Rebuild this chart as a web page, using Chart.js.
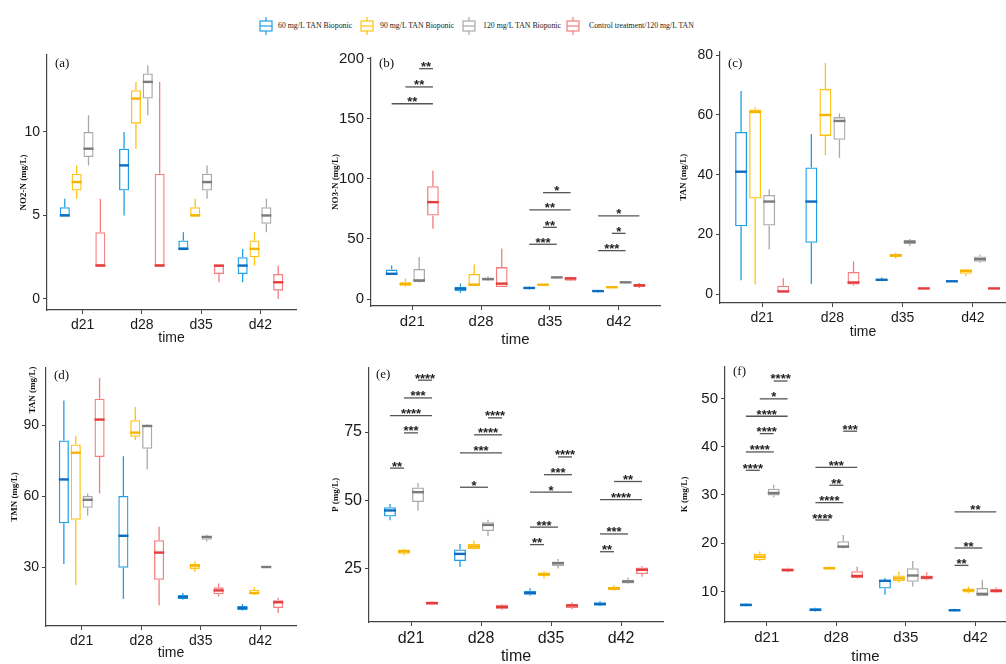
<!DOCTYPE html>
<html>
<head>
<meta charset="utf-8">
<title>Water quality boxplots</title>
<script src="https://cdn.jsdelivr.net/npm/chart.js"></script>
<style>
  html, body { margin: 0; padding: 0; background: #fff; overflow: hidden; }
  body { position: relative; width: 1006px; height: 664px; }
  canvas { position: absolute; }
  #legend { position: absolute; left: 0; top: 0; width: 1006px; height: 40px;
    font-family: "Liberation Serif", serif; font-size: 7.8px; color: #222; }
  .item { position: absolute; top: 17px; height: 18px; }
  .item svg { position: absolute; left: 0; top: 0; }
  .item span { position: absolute; top: 0; line-height: 18px; white-space: nowrap; }
</style>
</head>
<body>
<div id="legend"></div>
<canvas id="pa"></canvas>
<canvas id="pb"></canvas>
<canvas id="pc"></canvas>
<canvas id="pd"></canvas>
<canvas id="pe"></canvas>
<canvas id="pf"></canvas>
<script>
// Days on the x axis
const categories = ["d21", "d28", "d35", "d42"];
const seriesNames = [
  "60 mg/L TAN Bioponic",
  "90 mg/L TAN Bioponic",
  "120 mg/L TAN Bioponic",
  "Control treatment/120 mg/L TAN",
];

// Every box: [min, q1, median, q3, max], one per day
// (a) NO2-N
const no2_60 = [[5, 5, 5, 5.5, 6], [5, 6.5, 8, 9, 10], [3, 3, 3, 3.5, 4], [1, 1.5, 2, 2.5, 3]];
const no2_90 = [[6, 6.5, 7, 7.5, 8], [9, 10.5, 12, 12.5, 13], [5, 5, 5, 5.5, 6], [2, 2.5, 3, 3.5, 4]];
const no2_120 = [[8, 8.5, 9, 10, 11], [11, 12, 13, 13.5, 14], [6, 6.5, 7, 7.5, 8], [4, 4.5, 5, 5.5, 6]];
const no2_ctrl = [[2, 2, 2, 4, 6], [2, 2, 2, 7.5, 13], [1, 1.5, 2, 2, 2], [0, 0.5, 1, 1.5, 2]];

// (b) NO3-N
const no3_60 = [[20, 20.2, 21, 24.5, 28], [5, 6.4, 8.6, 10.3, 13], [8, 8.3, 9.2, 10, 10.5], [5.5, 5.8, 6.6, 7.2, 7.5]];
const no3_90 = [[10.3, 11, 12.5, 14, 17], [11, 11.1, 12, 20.8, 28.8], [11.5, 11.7, 11.9, 12.1, 12.3], [9, 9.2, 9.8, 10.5, 10.8]];
const no3_120 = [[13.5, 14, 15.5, 25, 35], [14.7, 15.5, 16.6, 17.8, 18.9], [17, 17.5, 18, 18.6, 19], [13, 13.3, 13.9, 14.4, 14.8]];
const no3_ctrl = [[58.5, 69.5, 80.7, 94, 107], [10, 10, 12.8, 26.6, 42], [14.7, 15.3, 17.2, 18, 18.6], [9.2, 10, 11.4, 12.5, 13.3]];

// (c) TAN
const tan_60 = [[4.6, 22.7, 41, 54.3, 68], [3.4, 17.2, 31, 42.4, 53.6], [4.3, 4.4, 4.8, 5.1, 5.6], [4.1, 4.2, 4.3, 4.4, 4.5]];
const tan_90 = [[3.2, 32, 61, 61.8, 62.6], [46.5, 53, 60, 68.7, 77.4], [11.9, 12.4, 13, 13.5, 13.9], [6.1, 6.8, 7.8, 8.2, 8.4]];
const tan_120 = [[14.9, 23, 31, 33.2, 35], [45.7, 51.7, 58, 59.3, 60.5], [16.1, 16.8, 17.5, 18.1, 18.5], [10.4, 10.8, 11.7, 12.6, 13.2]];
const tan_ctrl = [[0.5, 0.6, 0.9, 2.8, 5.3], [2.8, 3.2, 3.9, 7.4, 10.9], [1.8, 1.85, 1.9, 1.95, 2.0], [1.8, 1.85, 1.9, 1.95, 2.0]];

// (d) TMN
const tmn_60 = [[31.3, 48.5, 67, 83.5, 100.4], [16.5, 29.7, 43.2, 60, 76.8], [16.2, 16.5, 17.3, 18.2, 19], [11.5, 11.7, 12.7, 13.5, 14.4]];
const tmn_90 = [[22.4, 50, 78.3, 81.8, 85.4], [83.7, 85, 86.8, 92, 97.6], [28, 29.2, 30.6, 31.4, 32.4], [18.2, 18.7, 19, 20.4, 21.4]];
const tmn_120 = [[51.8, 55, 58.4, 60, 61.1], [71.3, 80, 89.6, 90, 90.2], [40.8, 41.5, 42.7, 43.2, 43.7], [29.7, 29.8, 30, 30.1, 30.3]];
const tmn_ctrl = [[61.1, 76.5, 92.3, 101.1, 110], [13.7, 24.6, 36.1, 41.3, 47], [17.5, 18.5, 20.1, 21.4, 23], [10.6, 12.7, 15.1, 16, 17]];

// (e) P
const p_60 = [[42.7, 44.1, 46.3, 47.5, 48.7], [25.6, 27.8, 30.4, 32, 34], [15.1, 15.4, 16.1, 16.9, 17.8], [11.2, 11.4, 12.1, 12.6, 13.2]];
const p_90 = [[29.8, 30.5, 31.4, 32, 32.4], [32, 32.2, 33.1, 34, 35.2], [21.4, 22.2, 23, 23.6, 24.2], [17, 17.2, 17.8, 18.3, 19]];
const p_120 = [[46.2, 49.4, 53, 54.7, 56.4], [36.9, 38.8, 41, 42, 42.9], [25.1, 26, 27, 27.6, 28.5], [19.4, 19.6, 20.3, 20.9, 21.8]];
const p_ctrl = [[11.6, 11.8, 12.4, 12.9, 13.2], [10, 10.3, 10.9, 11.8, 12.1], [10.1, 10.6, 11.5, 12.1, 12.7], [22, 23, 24.6, 25.4, 26]];

// (f) K
const k_60 = [[6.9, 6.95, 7.2, 7.5, 7.6], [5.8, 5.9, 6.2, 6.5, 6.6], [9.3, 10.6, 12.2, 12.4, 12.8], [5.8, 5.9, 6.1, 6.3, 6.4]];
const k_90 = [[16.3, 16.5, 17.2, 17.8, 18.3], [14.5, 14.6, 14.8, 15.1, 15.2], [11.8, 12.1, 12.7, 13.3, 14.1], [9.6, 9.8, 10.3, 10.5, 11]];
const k_120 = [[29.5, 29.9, 30.4, 31.3, 32.1], [18.9, 19, 19.3, 20.4, 21.7], [11, 12, 13.3, 14.8, 16.3], [9, 9, 9.5, 10.7, 12.4]];
const k_ctrl = [[14, 14.2, 14.4, 14.8, 14.9], [12.7, 12.8, 13.2, 14.2, 15.1], [12.3, 12.5, 12.9, 13.3, 14], [9.7, 9.8, 10.1, 10.5, 10.8]];

// Significance brackets: [day index, from series, to series, y value, stars]
const no3_sig = [
  [0, 0, 3, 162.7, "**"], [0, 1, 3, 176.7, "**"], [0, 2, 3, 191.9, "**"],
  [2, 0, 2, 45.6, "***"], [2, 1, 2, 59.7, "**"], [2, 0, 3, 74.2, "**"], [2, 1, 3, 88.6, "*"],
  [3, 0, 2, 40.3, "***"], [3, 1, 2, 54.7, "*"], [3, 0, 3, 69.2, "*"],
];
const p_sig = [
  [0, 2, 3, 94.0, "****"], [0, 1, 3, 87.5, "***"], [0, 0, 3, 81.0, "****"], [0, 1, 2, 74.7, "***"], [0, 0, 1, 61.8, "**"],
  [1, 2, 3, 80.2, "****"], [1, 1, 3, 74.0, "****"], [1, 0, 3, 67.4, "***"], [1, 0, 2, 54.8, "*"],
  [2, 2, 3, 65.9, "****"], [2, 1, 3, 59.4, "***"], [2, 0, 3, 53.0, "*"], [2, 0, 2, 40.2, "***"], [2, 0, 1, 33.8, "**"],
  [3, 1, 3, 56.9, "**"], [3, 0, 3, 50.3, "****"], [3, 0, 2, 37.7, "***"], [3, 0, 1, 31.2, "**"],
];
const k_sig = [
  [0, 2, 3, 53.6, "****"], [0, 1, 3, 49.9, "*"], [0, 0, 3, 46.3, "****"], [0, 1, 2, 42.7, "****"], [0, 0, 2, 38.9, "****"], [0, 0, 1, 35.1, "****"],
  [1, 2, 3, 43.2, "***"], [1, 0, 3, 35.7, "***"], [1, 1, 2, 32.0, "**"], [1, 0, 2, 28.4, "****"], [1, 0, 1, 24.8, "****"],
  [3, 0, 1, 15.4, "**"], [3, 0, 2, 19.0, "**"], [3, 0, 3, 26.5, "**"],
];

// Colours for the box outlines and the (darker) median lines
const seriesColors = ["#1f9ee4", "#ffc20e", "#a9a9a9", "#f47d7d"];
const medianColors = ["#0b6cc2", "#f6b400", "#7b7b7b", "#e53b3b"];

// Page layout of each panel: canvas [x, y, w, h], plot area [left, top, right, bottom]
const panels = [
  { id: "a", canvas: [0, 40, 320, 310], area: [47, 55, 296, 310], yMin: -0.66, yMax: 14.61, step: 5, xMax: 4.6,
    title: "NO2-N (mg/L)", titleX: 24, font: 14, timeY: 338, tag: "(a)", tagPos: [55, 64],
    boxes: [no2_60, no2_90, no2_120, no2_ctrl], sig: [] },
  { id: "b", canvas: [326, 40, 338, 310], area: [371, 58, 660, 306], yMin: -5.83, yMax: 200.8, step: 50, xMax: 4.6,
    title: "NO3-N (mg/L)", titleX: 336, font: 15, timeY: 340, tag: "(b)", tagPos: [379, 64],
    boxes: [no3_60, no3_90, no3_120, no3_ctrl], sig: no3_sig },
  { id: "c", canvas: [670, 40, 336, 310], area: [720, 48, 1006, 303], yMin: -2.98, yMax: 81.3, step: 20, xMax: 4.47,
    title: "TAN (mg/L)", titleX: 684, font: 14, timeY: 332, tag: "(c)", tagPos: [728, 64],
    boxes: [tan_60, tan_90, tan_120, tan_ctrl], sig: [] },
  { id: "d", canvas: [0, 355, 320, 315], area: [46, 368, 296, 626], yMin: 5.07, yMax: 114.1, step: 30, xMax: 4.6,
    title: "TMN (mg/L)", titleX: 15, font: 14, timeY: 653, tag: "(d)", tagPos: [54, 376],
    extra: { text: "TAN (mg/L)", x: 33, y: 390 },
    boxes: [tmn_60, tmn_90, tmn_120, tmn_ctrl], sig: [] },
  { id: "e", canvas: [326, 355, 342, 315], area: [369, 363, 663, 622], yMin: 5.47, yMax: 98.6, step: 25, xMax: 4.6,
    title: "P (mg/L)", titleX: 336, font: 16, timeY: 657, tag: "(e)", tagPos: [376, 375],
    boxes: [p_60, p_90, p_120, p_ctrl], sig: p_sig },
  { id: "f", canvas: [670, 355, 336, 315], area: [725, 363, 1006, 622], yMin: 3.67, yMax: 56.5, step: 10, xMax: 4.44,
    title: "K (mg/L)", titleX: 685, font: 15, timeY: 657, tag: "(f)", tagPos: [733, 372],
    boxes: [k_60, k_90, k_120, k_ctrl], sig: k_sig },
];

// Legend positions [icon x, text x]
const legendPos = [[259, 278], [360, 380], [462, 483], [566, 589]];

// Build the shared legend at the top
function buildLegend() {
  const legend = document.getElementById("legend");
  seriesNames.forEach((name, i) => {
    const c = seriesColors[i];
    const item = document.createElement("div");
    item.className = "item";
    item.style.left = legendPos[i][0] + "px";
    item.innerHTML =
      '<svg width="14" height="18" viewBox="0 0 14 18">' +
      '<line x1="7" y1="0" x2="7" y2="4" stroke="' + c + '" stroke-width="1.2"/>' +
      '<rect x="1" y="4" width="12" height="10" fill="none" stroke="' + c + '" stroke-width="1.2"/>' +
      '<line x1="1" y1="9" x2="13" y2="9" stroke="' + c + '" stroke-width="1.2"/>' +
      '<line x1="7" y1="14" x2="7" y2="18" stroke="' + c + '" stroke-width="1.2"/>' +
      "</svg>";
    const label = document.createElement("span");
    label.textContent = name;
    label.style.left = legendPos[i][1] - legendPos[i][0] + "px";
    item.appendChild(label);
    legend.appendChild(item);
  });
}

// Plugin drawing whiskers, medians, brackets and panel tags
function boxPartsPlugin(p) {
  return {
    id: "boxParts" + p.id,
    afterDatasetsDraw(chart) {
      const ctx = chart.ctx;
      const yScale = chart.scales.y;
      const cx = p.canvas[0];
      const cy = p.canvas[1];
      ctx.save();

      // Whiskers and medians
      chart.data.datasets.forEach((ds, i) => {
        const meta = chart.getDatasetMeta(i);
        meta.data.forEach((bar, j) => {
          const s = p.boxes[i][j];
          const half = bar.width / 2;
          ctx.strokeStyle = seriesColors[i];
          ctx.lineWidth = 1.3;
          ctx.beginPath();
          ctx.moveTo(bar.x, yScale.getPixelForValue(s[3]));
          ctx.lineTo(bar.x, yScale.getPixelForValue(s[4]));
          ctx.moveTo(bar.x, yScale.getPixelForValue(s[1]));
          ctx.lineTo(bar.x, yScale.getPixelForValue(s[0]));
          ctx.stroke();

          const ym = yScale.getPixelForValue(s[2]);
          ctx.strokeStyle = medianColors[i];
          ctx.lineWidth = 2.4;
          ctx.beginPath();
          ctx.moveTo(bar.x - half, ym);
          ctx.lineTo(bar.x + half, ym);
          ctx.stroke();
        });
      });

      // Significance brackets
      ctx.strokeStyle = "#555";
      ctx.fillStyle = "#222";
      ctx.lineWidth = 1.3;
      ctx.font = "bold 13px 'Liberation Sans', Arial, sans-serif";
      ctx.textAlign = "center";
      ctx.textBaseline = "alphabetic";
      p.sig.forEach(([day, from, to, value, stars]) => {
        const x1 = chart.getDatasetMeta(from).data[day].x;
        const x2 = chart.getDatasetMeta(to).data[day].x;
        const y = yScale.getPixelForValue(value);
        ctx.beginPath();
        ctx.moveTo(x1, y);
        ctx.lineTo(x2, y);
        ctx.stroke();
        ctx.fillText(stars, (x1 + x2) / 2, y + 2.5);
      });

      // Panel tag, e.g. "(a)"
      ctx.fillStyle = "#111";
      ctx.font = "13px 'Liberation Serif', serif";
      ctx.textAlign = "left";
      ctx.textBaseline = "middle";
      ctx.fillText(p.tag, p.tagPos[0] - cx, p.tagPos[1] - cy);

      // Extra rotated axis text (panel d)
      if (p.extra) {
        ctx.translate(p.extra.x - cx, p.extra.y - cy);
        ctx.rotate(-Math.PI / 2);
        ctx.font = "bold 9px 'Liberation Serif', serif";
        ctx.textAlign = "center";
        ctx.fillText(p.extra.text, 0, 0);
      }
      ctx.restore();
    },
  };
}

// Create one panel chart
function drawPanel(p) {
  const canvas = document.getElementById("p" + p.id);
  const [cx, cy, cw, ch] = p.canvas;
  const [l, t, r, b] = p.area;
  canvas.width = cw;
  canvas.height = ch;
  canvas.style.left = cx + "px";
  canvas.style.top = cy + "px";
  canvas.style.width = cw + "px";
  canvas.style.height = ch + "px";

  const axisColor = "#444";
  const tickFont = { family: "'Liberation Sans', Arial, sans-serif", size: p.font };

  new Chart(canvas, {
    type: "bar",
    data: {
      datasets: p.boxes.map((stats, i) => ({
        label: seriesNames[i],
        data: stats.map((s, j) => ({ x: j + 1, y: [s[1], s[3]] })),
        borderColor: seriesColors[i],
        backgroundColor: "rgba(255,255,255,0)",
        borderWidth: 1.3,
        borderSkipped: false,
        categoryPercentage: 0.8,
        barPercentage: 0.85,
      })),
    },
    options: {
      responsive: false,
      animation: false,
      events: [],
      layout: {
        autoPadding: false,
        padding: { left: 0, top: t - cy, right: cx + cw - r, bottom: 0 },
      },
      plugins: {
        legend: { display: false },
        tooltip: { enabled: false },
      },
      scales: {
        x: {
          type: "linear",
          min: 0.4,
          max: p.xMax,
          offset: false,
          afterFit: (scale) => { scale.height = cy + ch - b; },
          grid: { offset: false, drawOnChartArea: false, drawTicks: true, tickLength: 4, color: axisColor },
          border: { display: true, color: axisColor, width: 1.2 },
          ticks: {
            stepSize: 1,
            includeBounds: false,
            autoSkip: false,
            maxRotation: 0,
            padding: 3,
            color: "#1a1a1a",
            font: tickFont,
            callback: (v) => categories[v - 1],
          },
          title: {
            display: true,
            text: "time",
            color: "#1a1a1a",
            font: { family: "'Liberation Sans', Arial, sans-serif", size: p.font, lineHeight: 1.2 },
            padding: { top: 0, bottom: cy + ch - p.timeY - p.font * 0.6 },
          },
        },
        y: {
          min: p.yMin,
          max: p.yMax,
          afterFit: (scale) => { scale.width = l - cx; },
          grid: { drawOnChartArea: false, drawTicks: true, tickLength: 4, color: axisColor },
          border: { display: true, color: axisColor, width: 1.2 },
          ticks: {
            stepSize: p.step,
            includeBounds: false,
            padding: 3,
            color: "#1a1a1a",
            font: tickFont,
          },
          title: {
            display: true,
            text: p.title,
            color: "#111",
            font: { family: "'Liberation Serif', serif", size: 9, weight: "bold", lineHeight: 1.2 },
            padding: { top: p.titleX - cx - 5.4, bottom: 0 },
          },
        },
      },
    },
    plugins: [boxPartsPlugin(p)],
  });
}

buildLegend();
panels.forEach(drawPanel);
</script>
</body>
</html>
